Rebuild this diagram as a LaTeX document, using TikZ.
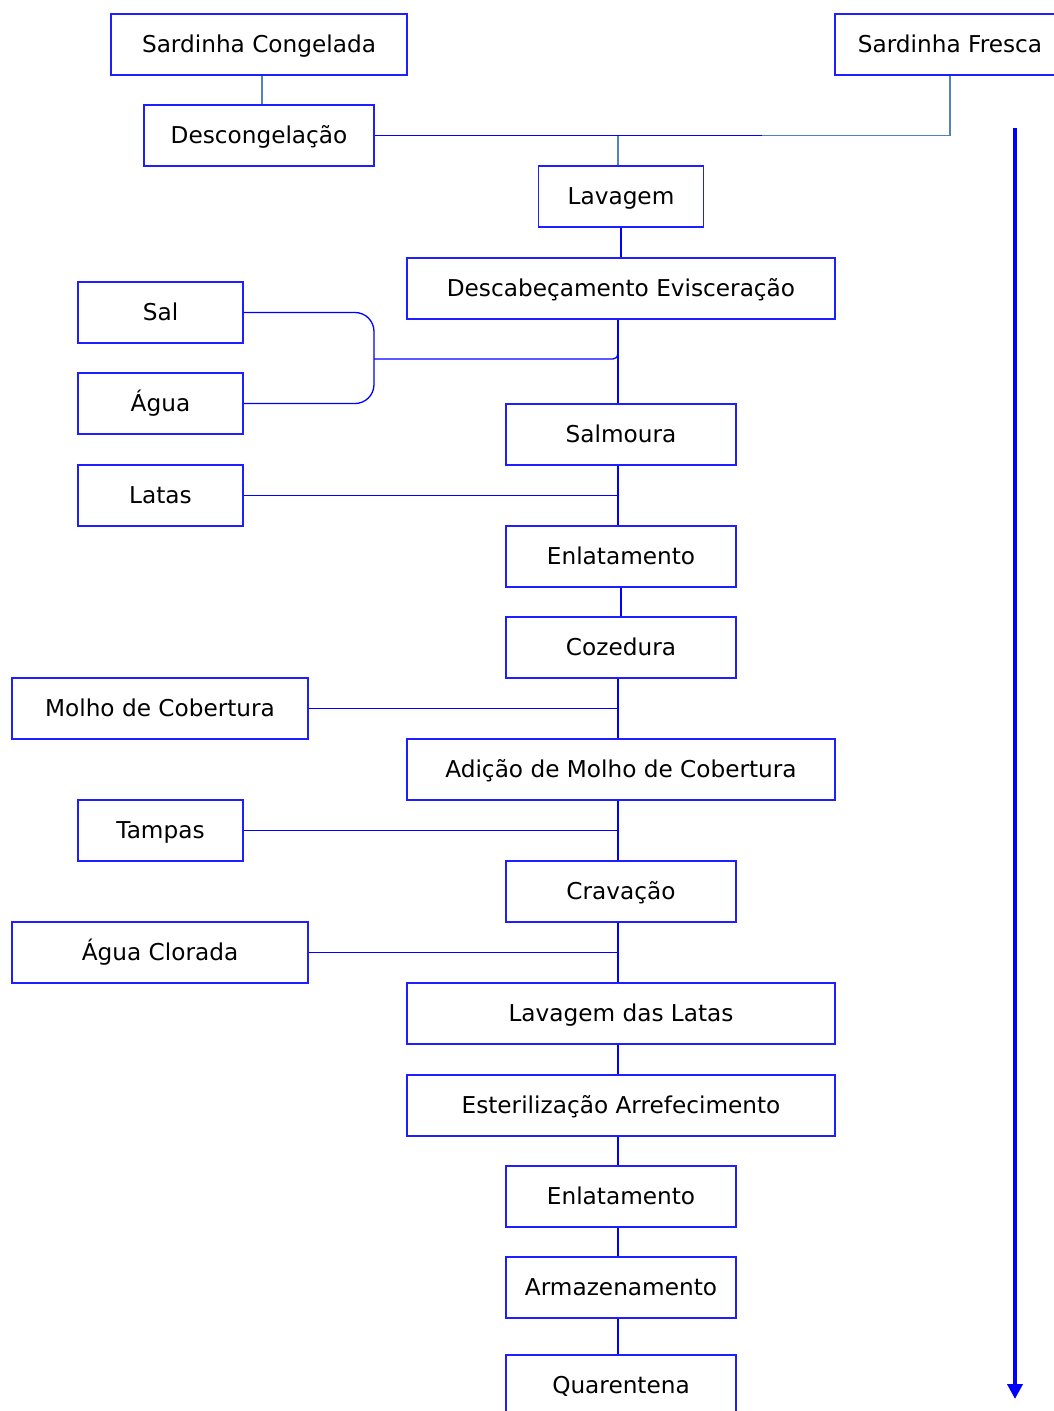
\documentclass[tikz,border=0pt]{standalone}
\usepackage{fontspec}
\setmainfont{DejaVu Sans}
\usetikzlibrary{arrows.meta}
\definecolor{bxblue}{RGB}{30,30,255}
\definecolor{steel}{RGB}{80,130,190}
\begin{document}
\begin{tikzpicture}[x=1pt,y=-1pt,
  box/.style={draw=bxblue, line width=1.2pt, inner sep=0pt, minimum height=61pt, text height=17pt, text depth=2pt, font=\fontsize{23.2}{27}\selectfont, text=black},
  wn/.style={box, minimum width=165pt},
  wm/.style={box, minimum width=230pt},
  wl/.style={box, minimum width=296pt},
  wx/.style={box, minimum width=428pt},
  conn/.style={draw=blue, line width=1.3pt},
  sconn/.style={draw=steel, line width=1.3pt}]
\useasboundingbox (0,0) rectangle (1053,1411);
% nodes
\node[wl] (sc) at (259,44.5) {Sardinha Congelada};
\node[box, minimum width=230pt] (sf) at (950,44.5) {Sardinha Fresca};
\node[wm] (desc) at (259,135.5) {Descongelação};
\node[wn] (lav) at (621,196.5) {Lavagem};
\node[wx] (dev) at (621,288.5) {Descabeçamento Evisceração};
\node[wn] (sal) at (160.5,312.5) {Sal};
\node[wn] (agua) at (160.5,403.5) {Água};
\node[wm] (salm) at (621,434.5) {Salmoura};
\node[wn] (latas) at (160.5,495.5) {Latas};
\node[wm] (enl) at (621,556.5) {Enlatamento};
\node[wm] (coz) at (621,647.5) {Cozedura};
\node[wl] (molho) at (160,708.5) {Molho de Cobertura};
\node[wx] (adic) at (621,769.5) {Adição de Molho de Cobertura};
\node[wn] (tamp) at (160.5,830.5) {Tampas};
\node[wm] (crav) at (621,891.5) {Cravação};
\node[wl] (aguac) at (160,952.5) {Água Clorada};
\node[wx] (lavl) at (621,1013.5) {Lavagem das Latas};
\node[wx] (est) at (621,1105.5) {Esterilização Arrefecimento};
\node[wm] (enl2) at (621,1196.5) {Enlatamento};
\node[wm] (arm) at (621,1287.5) {Armazenamento};
\node[wm] (quar) at (621,1385.5) {Quarentena};
% junction coordinates
\coordinate (j1) at (618,135.5);
\coordinate (j1b) at (762,135.5);
\coordinate (brk) at (374,359);
\coordinate (j2) at (618,359);
% top connectors
\draw[sconn] (sc.south -| 262,0) -- (desc.north -| 262,0);
\draw[conn] (desc.east) -- (j1b);
\draw[sconn] (j1b) -- (j1b -| sf.south) -- (sf.south);
\draw[sconn] (j1) -- (lav.north -| j1);
\draw[conn] (lav.south) -- (dev.north);
% trunk
\draw[conn] (dev.south -| j2) -- (salm.north -| j2);
\draw[conn, rounded corners=19pt] (sal.east) -- (brk |- sal.east) -- (brk |- agua.east) -- (agua.east);
\draw[conn, rounded corners=5pt] (brk) -- (j2) -- ([yshift=12pt]j2);
\draw[conn] (salm.south -| j2) -- (enl.north -| j2);
\draw[conn] (latas.east) -- (latas.east -| j2);
\draw[conn] (enl.south) -- (coz.north);
\draw[conn] (coz.south -| j2) -- (adic.north -| j2);
\draw[conn] (molho.east) -- (molho.east -| j2);
\draw[conn] (adic.south -| j2) -- (crav.north -| j2);
\draw[conn] (tamp.east) -- (tamp.east -| j2);
\draw[conn] (crav.south -| j2) -- (lavl.north -| j2);
\draw[conn] (aguac.east) -- (aguac.east -| j2);
\draw[conn] (lavl.south -| j2) -- (est.north -| j2);
\draw[conn] (est.south -| j2) -- (enl2.north -| j2);
\draw[conn] (enl2.south -| j2) -- (arm.north -| j2);
\draw[conn] (arm.south -| j2) -- (quar.north -| j2);
% big arrow
\coordinate (a0) at (1015,128);
\coordinate (a1) at (1015,1399);
\draw[blue, line width=4pt, -{Triangle[length=15pt,width=15pt]}] (a0) -- (a1);
\end{tikzpicture}
\end{document}
